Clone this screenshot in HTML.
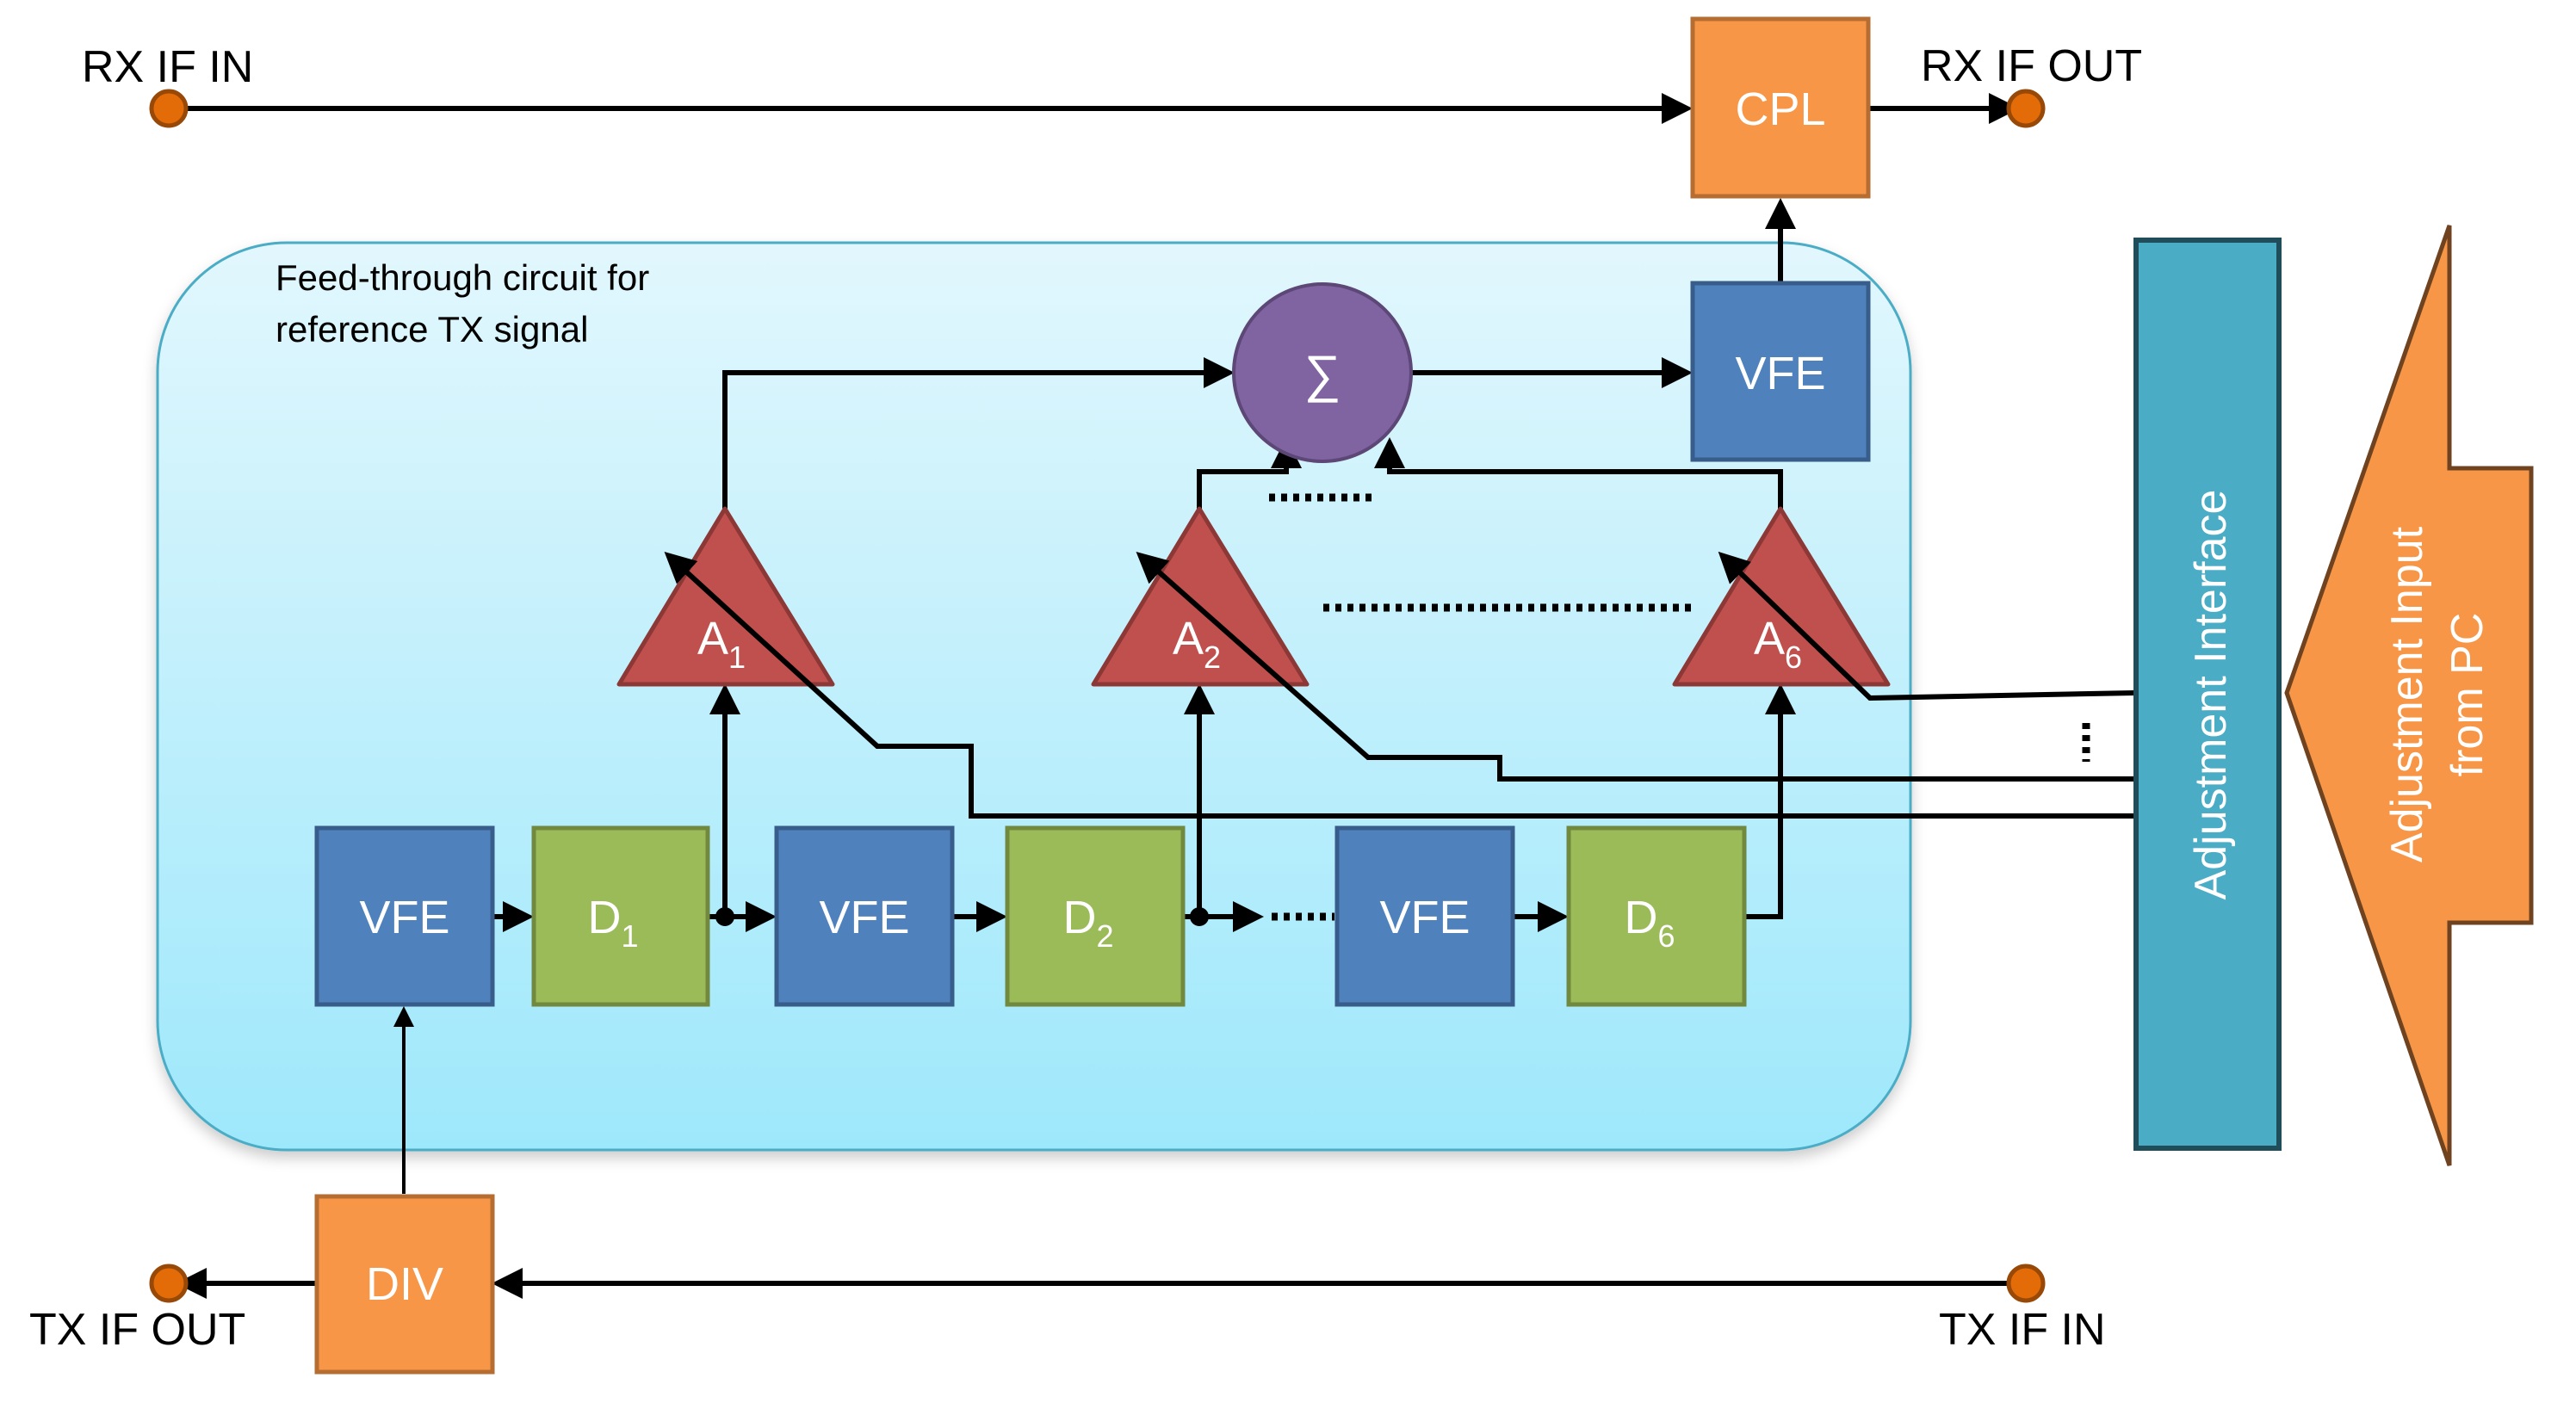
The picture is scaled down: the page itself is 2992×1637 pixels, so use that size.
<!DOCTYPE html>
<html><head><meta charset="utf-8"><style>
html,body{margin:0;padding:0;background:#fff;}
svg{display:block;}
text{font-family:"Liberation Sans",sans-serif;}
</style></head><body>
<svg width="2992" height="1637" viewBox="0 0 2992 1637" xmlns="http://www.w3.org/2000/svg">
<defs>
<linearGradient id="bg" x1="0" y1="0" x2="0" y2="1">
<stop offset="0" stop-color="#E2F7FD"/><stop offset="1" stop-color="#9EE8FB"/></linearGradient>
<marker id="ar" markerWidth="6" markerHeight="6" refX="5" refY="3" orient="auto" markerUnits="strokeWidth">
<path d="M0,0 L6,3 L0,6 z" fill="#000"/></marker>
<filter id="sh" x="-5%" y="-5%" width="110%" height="115%"><feDropShadow dx="0" dy="8" stdDeviation="8" flood-color="#000" flood-opacity="0.2"/></filter>
</defs>

<!-- container -->
<rect x="183" y="282" width="2036" height="1054" rx="150" fill="url(#bg)" stroke="#4BACC6" stroke-width="3" filter="url(#sh)"/>
<text x="320" y="337" font-size="42">Feed-through circuit for</text>
<text x="320" y="397" font-size="42">reference TX signal</text>

<g stroke="#000" stroke-width="6" fill="none">
<!-- RX line -->
<line x1="205" y1="126" x2="1960" y2="126" marker-end="url(#ar)"/>
<line x1="2172" y1="126" x2="2340" y2="126" marker-end="url(#ar)"/>
<line x1="2068" y1="327" x2="2068" y2="236" marker-end="url(#ar)"/>
<!-- sigma to VFE -->
<line x1="1639" y1="433" x2="1960" y2="433" marker-end="url(#ar)"/>
<polyline points="842,591 842,433 1428,433" marker-end="url(#ar)"/>
<polyline points="1393,591 1393,548 1494,548 1494,514" marker-end="url(#ar)"/>
<polyline points="2068,591 2068,548 1614,548 1614,514" marker-end="url(#ar)"/>
<!-- bottom row -->
<line x1="572" y1="1065" x2="614" y2="1065" marker-end="url(#ar)"/>
<line x1="822" y1="1065" x2="896" y2="1065" marker-end="url(#ar)"/>
<line x1="1107" y1="1065" x2="1164" y2="1065" marker-end="url(#ar)"/>
<line x1="1374" y1="1065" x2="1462" y2="1065" marker-end="url(#ar)"/>
<line x1="1757" y1="1065" x2="1816" y2="1065" marker-end="url(#ar)"/>
<polyline points="2026,1065 2068,1065 2068,800" marker-end="url(#ar)"/>
<line x1="842" y1="1065" x2="842" y2="800" marker-end="url(#ar)"/>
<line x1="1393" y1="1065" x2="1393" y2="800" marker-end="url(#ar)"/>
<line x1="469" y1="1387" x2="469" y2="1173" marker-end="url(#ar)" stroke-width="4"/>
<!-- TX line -->
<line x1="2340" y1="1491" x2="577" y2="1491" marker-end="url(#ar)"/>
<line x1="366" y1="1491" x2="210" y2="1491" marker-end="url(#ar)"/>
</g>
<g stroke="#000" stroke-width="9" fill="none" stroke-dasharray="7,7">
<line x1="1474" y1="578" x2="1596" y2="578"/>
<line x1="1537" y1="706" x2="1965" y2="706"/>
<line x1="1477" y1="1065" x2="1550" y2="1065"/>
<line x1="2423" y1="840" x2="2423" y2="885"/>
</g>
<circle cx="842" cy="1065" r="11" fill="#000"/>
<circle cx="1393" cy="1065" r="11" fill="#000"/>

<!-- dots -->
<g fill="#E36C09" stroke="#984807" stroke-width="5">
<circle cx="196" cy="126" r="20"/><circle cx="2353" cy="126" r="20"/>
<circle cx="196" cy="1491" r="20"/><circle cx="2353" cy="1491" r="20"/>
</g>
<g font-size="52" fill="#000">
<text x="95" y="95">RX IF IN</text>
<text x="2231" y="94">RX IF OUT</text>
<text x="34" y="1562">TX IF OUT</text>
<text x="2252" y="1562">TX IF IN</text>
</g>

<!-- orange boxes -->
<g fill="#F79646" stroke="#B66D31" stroke-width="5">
<rect x="1966" y="22" width="204" height="206"/>
<rect x="368" y="1390" width="204" height="204"/>
</g>
<!-- blue boxes -->
<g fill="#4F81BD" stroke="#385D8A" stroke-width="5">
<rect x="1966" y="329" width="204" height="205"/>
<rect x="368" y="962" width="204" height="205"/>
<rect x="902" y="962" width="204" height="205"/>
<rect x="1553" y="962" width="204" height="205"/>
</g>
<g fill="#9BBB59" stroke="#71893F" stroke-width="5">
<rect x="620" y="962" width="202" height="205"/>
<rect x="1170" y="962" width="204" height="205"/>
<rect x="1822" y="962" width="204" height="205"/>
</g>
<circle cx="1536" cy="433" r="103" fill="#8064A2" stroke="#5C4776" stroke-width="4"/>
<g fill="#C0504D" stroke="#8C3836" stroke-width="5" stroke-linejoin="round">
<polygon points="842,591 967,795 719,795"/>
<polygon points="1393,591 1518,795 1270,795"/>
<polygon points="2068,591 2193,795 1945,795"/>
</g>

<g fill="#fff" font-size="54" text-anchor="middle">
<text x="2068" y="145">CPL</text>
<text x="2068" y="452">VFE</text>
<text x="470" y="1084">VFE</text>
<text x="1004" y="1084">VFE</text>
<text x="1655" y="1084">VFE</text>
<text x="470" y="1510">DIV</text>
<text x="1536" y="455" font-size="60">∑</text>
<text x="712" y="1084">D<tspan font-size="36" dy="16">1</tspan></text>
<text x="1264" y="1084">D<tspan font-size="36" dy="16">2</tspan></text>
<text x="1916" y="1084">D<tspan font-size="36" dy="16">6</tspan></text>
<text x="838" y="760">A<tspan font-size="36" dy="16">1</tspan></text>
<text x="1390" y="760">A<tspan font-size="36" dy="16">2</tspan></text>
<text x="2065" y="760">A<tspan font-size="36" dy="16">6</tspan></text>
</g>

<!-- adjustment lines -->
<g stroke="#000" stroke-width="6" fill="none">
<polyline points="2480,948 1128,948 1128,867 1019,867 776,645" marker-end="url(#ar)"/>
<polyline points="2480,905 1742,905 1742,880 1589,880 1324,645" marker-end="url(#ar)"/>
<polyline points="2480,805 2172,811 2000,645" marker-end="url(#ar)"/>
</g>

<!-- interface bar -->
<rect x="2481" y="279" width="166" height="1055" fill="#4BACC6" stroke="#1F4E5A" stroke-width="6"/>
<text transform="translate(2585,807) rotate(-90)" fill="#fff" font-size="52" text-anchor="middle">Adjustment Interface</text>
<!-- big arrow -->
<polygon points="2656,805 2845,262 2845,544 2940,544 2940,1072 2845,1072 2845,1354" fill="#F79646" stroke="#6F4320" stroke-width="5" stroke-linejoin="miter"/>
<text transform="translate(2813,807) rotate(-90)" fill="#fff" font-size="52" text-anchor="middle">Adjustment Input</text>
<text transform="translate(2883,807) rotate(-90)" fill="#fff" font-size="52" text-anchor="middle">from PC</text>
</svg>
</body></html>
